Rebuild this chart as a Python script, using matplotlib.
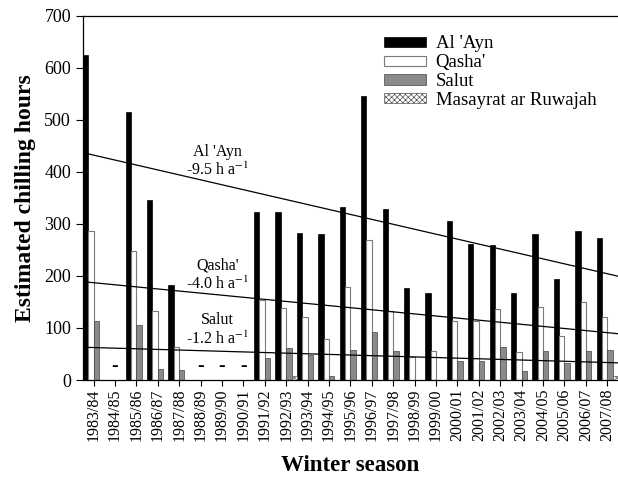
import numpy as np
import matplotlib
matplotlib.use('Agg')
import matplotlib.pyplot as plt

plt.rcParams['font.family'] = ['Liberation Serif', 'DejaVu Serif']
plt.rcParams['mathtext.fontset'] = 'stix'
plt.rcParams['hatch.linewidth'] = 0.5

seasons = ['1983/84', '1984/85', '1985/86', '1986/87', '1987/88', '1988/89', '1989/90',
           '1990/91', '1991/92', '1992/93', '1993/94', '1994/95', '1995/96', '1996/97',
           '1997/98', '1998/99', '1999/00', '2000/01', '2001/02', '2002/03', '2003/04',
           '2004/05', '2005/06', '2006/07', '2007/08']

nan = np.nan
# estimated chilling hours per site (nan = no data)
al_ayn = [625, nan, 515, 345, 182, nan, nan, nan, 322, 322, 283, 280, 332, 545,
          328, 177, 167, 305, 262, 260, 168, 281, 195, 287, 272]
qasha = [287, nan, 248, 133, 63, nan, nan, nan, 153, 138, 121, 79, 178, 270,
         133, 45, 55, 113, 113, 136, 53, 140, 84, 150, 122]
salut = [113, nan, 105, 22, 20, nan, nan, nan, 43, 62, 49, 8, 58, 93,
         55, 0, 0, 36, 36, 64, 17, 55, 33, 55, 57]
masayrat = [0, nan, 0, 0, 0, nan, nan, nan, 0, 8, 0, 0, 0, 0,
            0, 0, 0, 0, 0, 0, 0, 0, 0, 0, 8]

# linear trends: value at first season, slope (h per year), label height
trends = [("Al 'Ayn", 437, -9.5, 420),
          ("Qasha'", 189, -4.0, 202),
          ('Salut', 63, -1.2, 96)]

x = np.arange(len(seasons))
w = 0.25

fig = plt.figure(figsize=(6.18, 4.78), dpi=100)
ax = fig.add_axes([0.134, 0.205, 0.866, 0.762])

ax.bar(x - 1.5 * w, al_ayn, w, color='black', edgecolor='black', lw=0.5, label="Al 'Ayn")
ax.bar(x - 0.5 * w, qasha, w, color='white', edgecolor='#7a7a7a', lw=0.8, label="Qasha'")
ax.bar(x + 0.5 * w, salut, w, color='#8a8a8a', edgecolor='#444444', lw=0.5, label='Salut')
ax.bar(x + 1.5 * w, masayrat, w, color='white', edgecolor='#555555', lw=0.5,
       hatch='xxxxxx', label='Masayrat ar Ruwajah')

# missing seasons
for i in range(len(seasons)):
    if np.isnan(al_ayn[i]):
        ax.text(x[i], 26, '-', ha='center', va='center', fontsize=14, fontweight='bold')

xx = np.array([-0.5, len(seasons) - 0.5])
for name, y0, slope, ty in trends:
    ax.plot(xx, y0 + slope * (xx + 0.5), color='black', lw=0.9)
    ax.text(5.8, ty, f'{name}\n{slope:.1f} h a$^{{\\mathrm{{-1}}}}$', ha='center', va='center',
            fontsize=11.5, linespacing=1.15)

ax.set_xlim(-0.5, len(seasons) - 0.5)
ax.set_ylim(0, 700)
ax.set_yticks(range(0, 701, 100))
ax.set_xticks(x)
ax.set_xticklabels(seasons, rotation=90, fontsize=11.5)
ax.tick_params(axis='y', labelsize=13, length=5, width=0.8)
ax.tick_params(axis='x', length=4, width=0.8, pad=2)
ax.spines['right'].set_visible(False)
for s in ['left', 'top', 'bottom']:
    ax.spines[s].set_linewidth(0.9)

ax.set_ylabel('Estimated chilling hours', fontsize=17, fontweight='bold', labelpad=6)
ax.set_xlabel('Winter season', fontsize=16.5, fontweight='bold', labelpad=10)

ax.legend(loc='upper left', bbox_to_anchor=(0.562, 0.946), frameon=False, fontsize=13.5,
          handlelength=2.25, handleheight=0.45, labelspacing=0.1, handletextpad=0.53,
          borderaxespad=0, borderpad=0)

fig.savefig('out.png', dpi=100)
